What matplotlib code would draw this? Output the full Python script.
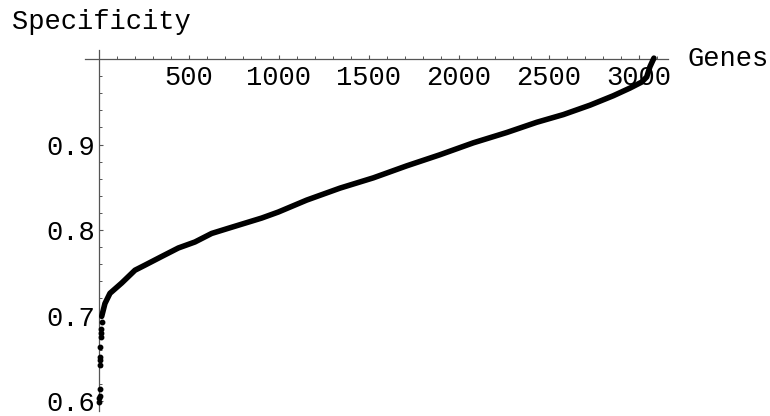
import matplotlib
matplotlib.use("Agg")
import matplotlib.pyplot as plt
from matplotlib.ticker import FixedLocator

# scattered low-specificity genes at the very start
start_genes = [1, 2, 3, 4, 5, 6, 7, 8, 9, 10, 12, 14]
start_spec = [0.599, 0.603, 0.606, 0.614, 0.642, 0.648, 0.651, 0.663, 0.675, 0.679, 0.684, 0.693]

# the dense sorted curve
genes = [15, 33, 61, 126, 200, 256, 348, 441, 533, 626, 718, 811, 904, 996,
         1154, 1339, 1524, 1709, 1894, 2080, 2265, 2432, 2580,
         2728, 2857, 2950, 3015, 3043, 3061, 3083]
spec = [0.699, 0.714, 0.726, 0.738, 0.753, 0.759, 0.769, 0.779, 0.786, 0.796,
        0.802, 0.808, 0.814, 0.821, 0.835, 0.849, 0.861, 0.875, 0.888,
        0.902, 0.914, 0.926, 0.935, 0.946, 0.957, 0.966, 0.973, 0.979,
        0.991, 1.001]

x_ticks = [500, 1000, 1500, 2000, 2500, 3000]
y_ticks = [0.6, 0.7, 0.8, 0.9]
x_minor = [100 * i for i in range(1, 32)]
y_minor = [0.6 + 0.02 * i for i in range(1, 21)]

font = "Liberation Mono"
fs = 19.5
axcol = "#555555"

fig = plt.figure(figsize=(7.7, 4.16), dpi=100)
ax = fig.add_axes([0, 0, 1, 1])
ax.set_xlim(-550, 3728)
ax.set_ylim(0.5825, 1.069)

ax.plot(genes, spec, color="black", lw=4.0, solid_capstyle="round",
        solid_joinstyle="round", zorder=3)
ax.plot(start_genes, start_spec, "o", color="black", ms=3.2, zorder=3)

for s in ["right", "top"]:
    ax.spines[s].set_visible(False)
ax.spines["left"].set_position(("data", 0))
ax.spines["bottom"].set_position(("data", 1.0))
ax.spines["left"].set_bounds(0.588, 1.0105)
ax.spines["bottom"].set_bounds(-78, 3161)
for s in ["left", "bottom"]:
    ax.spines[s].set_color(axcol)
    ax.spines[s].set_linewidth(0.9)

ax.set_xticks(x_ticks)
ax.set_xticklabels([str(v) for v in x_ticks], fontfamily=font, fontsize=fs)
ax.set_yticks(y_ticks)
ax.set_yticklabels([str(v) for v in y_ticks], fontfamily=font, fontsize=fs)
ax.xaxis.set_minor_locator(FixedLocator(x_minor))
ax.yaxis.set_minor_locator(FixedLocator(y_minor))
ax.tick_params(which="major", direction="in", length=3.2, width=0.8, color=axcol, pad=4)
ax.tick_params(which="minor", direction="in", length=2.0, width=0.7, color=axcol)
ax.tick_params(axis="y", which="major", pad=3)

# axis labels, Mathematica style: at the ends of the axes
ax.text(3272, 1.0, "Genes", fontfamily=font, fontsize=fs, ha="left", va="center")
fig.text(12 / 770, 1 - 29 / 416, "Specificity", fontfamily=font, fontsize=fs,
         ha="left", va="baseline")

fig.savefig("out.png", dpi=100)
